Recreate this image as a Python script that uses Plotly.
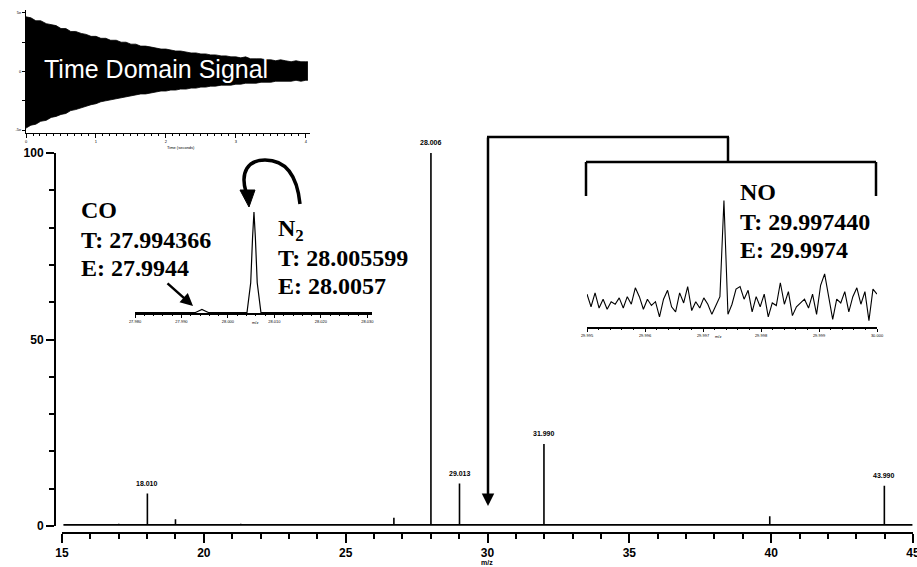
import numpy as np
import plotly.graph_objects as go

W, H = 917, 567

# ---------------- data ----------------
# main stick spectrum (m/z, relative abundance %)
peak_mz = [16.0, 17.0, 18.010, 19.0, 21.3, 26.7, 28.006, 29.013, 31.990, 39.95, 41.2, 43.990]
peak_int = [0.4, 0.6, 8.7, 1.8, 0.6, 2.2, 100.0, 11.4, 22.0, 2.6, 0.5, 10.8]
labeled_mz = [18.010, 28.006, 29.013, 31.990, 43.990]
labeled_int = [8.7, 100.0, 11.4, 22.0, 10.8]
labeled_txt = ["18.010", "28.006", "29.013", "31.990", "43.990"]
main_xticks = [15, 20, 25, 30, 35, 40, 45]
main_yticks = [0, 50, 100]

# N2 / CO zoom inset profile
n2_mz = [27.9800, 27.9930, 27.9937, 27.9944, 27.9951, 27.9958, 28.0041, 28.0049,
         28.0053, 28.0056, 28.0059, 28.0063, 28.0071, 28.0310]
n2_int = [0.5, 0.5, 2.0, 3.5, 2.0, 0.5, 0.5, 30.0, 75.0, 100.0, 75.0, 30.0, 0.5, 0.5]
n2_ticks = [27.98, 27.99, 28.00, 28.01, 28.02, 28.03]

# NO zoom inset profile (evenly sampled between 29.995 and 30.000)
no_int = [26, 16, 27, 15, 22, 14, 20, 18, 23, 15, 24, 18, 31, 24, 14, 22, 17, 20, 8,
          22, 29, 16, 12, 27, 19, 32, 13, 20, 15, 23, 18, 10, 17, 24, 100, 10, 18, 30,
          32, 22, 29, 12, 24, 16, 26, 8, 19, 17, 35, 18, 28, 9, 16, 19, 22, 15, 26, 10,
          33, 42, 25, 6, 22, 19, 28, 12, 24, 31, 18, 28, 5, 30, 26]
no_range = [29.995, 30.000]
no_ticks = [29.995, 29.996, 29.997, 29.998, 29.999, 30.000]

# time domain signal envelope
td_time = [0.00, 0.07, 0.14, 0.21, 0.29, 0.36, 0.43, 0.50, 0.57, 0.64, 0.71, 0.79, 0.86,
           0.93, 1.00, 1.07, 1.14, 1.21, 1.29, 1.36, 1.43, 1.50, 1.57, 1.64, 1.71, 1.79,
           1.86, 1.93, 2.00, 2.07, 2.14, 2.21, 2.29, 2.36, 2.43, 2.50, 2.57, 2.64, 2.71,
           2.79, 2.86, 2.93, 3.00, 3.07, 3.14, 3.21, 3.29, 3.36, 3.43, 3.50, 3.57, 3.64,
           3.71, 3.79, 3.86, 3.93, 4.00, 4.03]
td_upper = [56, 55, 52, 52, 49, 48, 47, 44, 44, 41, 41, 39, 38, 36, 36, 34, 34, 32, 32,
            30, 30, 28, 28, 26, 26, 25, 24, 23, 23, 22, 21, 21, 20, 19, 19, 18, 18, 17,
            17, 16, 16, 15, 15, 14, 15, 13, 13, 13, 12, 12, 11, 12, 11, 10, 11, 10, 10, 10]
td_lower = [-58, -55, -54, -51, -50, -47, -46, -44, -43, -40, -39, -37, -36, -34, -33,
            -31, -30, -29, -28, -27, -26, -25, -24, -23, -23, -22, -21, -20, -20, -19,
            -19, -18, -18, -17, -17, -16, -16, -15, -15, -14, -14, -14, -13, -13, -12,
            -12, -12, -11, -11, -11, -10, -10, -10, -10, -9, -10, -9, -9]
td_ticks = [0, 1, 2, 3, 4]

# ---------------- helpers ----------------
def px(x):
    return x / W

def py(y):
    return 1 - y / H

BASE = 0.3
sx, sy = [15.05], [BASE]
for m, h in zip(peak_mz, peak_int):
    sx += [m, m, m]
    sy += [BASE, h, BASE]
sx.append(44.98)
sy.append(BASE)

no_mz = np.linspace(no_range[0], no_range[1], len(no_int))

fig = go.Figure()

fig.add_trace(go.Scatter(x=sx, y=sy, mode="lines", line=dict(color="black", width=1.6),
                         xaxis="x", yaxis="y", hoverinfo="skip"))
fig.add_trace(go.Scatter(x=n2_mz, y=n2_int, mode="lines", line=dict(color="black", width=1.2),
                         xaxis="x2", yaxis="y2", hoverinfo="skip"))
fig.add_trace(go.Scatter(x=no_mz, y=no_int, mode="lines", line=dict(color="black", width=1.1),
                         xaxis="x3", yaxis="y3", hoverinfo="skip"))
fig.add_trace(go.Scatter(x=td_time, y=td_upper, mode="lines", line=dict(color="black", width=0.8),
                         xaxis="x4", yaxis="y4", hoverinfo="skip"))
fig.add_trace(go.Scatter(x=td_time, y=td_lower, mode="lines", line=dict(color="black", width=0.8),
                         fill="tonexty", fillcolor="black",
                         xaxis="x4", yaxis="y4", hoverinfo="skip"))

tickfont_main = dict(family="Liberation Sans", size=12, color="black", weight="bold")
tiny = dict(family="Liberation Sans", size=4, color="black")

fig.update_layout(
    width=W, height=H, autosize=False,
    margin=dict(l=0, r=0, t=0, b=0, pad=0, autoexpand=False),
    paper_bgcolor="white", plot_bgcolor="white",
    showlegend=False,
    xaxis=dict(domain=[px(62), px(913)], range=[15, 45], anchor="free", position=py(533),
               automargin=False, ticklabeloverflow="allow",
               showline=True, linecolor="black", linewidth=2, ticks="outside", ticklen=9,
               tickwidth=2, tickcolor="black", tickvals=main_xticks,
               ticktext=[str(v) for v in main_xticks], tickfont=tickfont_main,
               minor=dict(dtick=1, ticklen=5, tickwidth=1.5, ticks="outside", tickcolor="black"),
               showgrid=False, zeroline=False),
    yaxis=dict(domain=[py(526), py(153)], range=[0, 100], anchor="free", position=px(55),
               automargin=False, ticklabeloverflow="allow",
               showline=True, linecolor="black", linewidth=2, ticks="outside", ticklen=8,
               tickwidth=1.5, tickcolor="black", tickvals=main_yticks,
               ticktext=[str(v) for v in main_yticks], tickfont=tickfont_main,
               minor=dict(dtick=10, ticklen=5, tickwidth=1.5, ticks="outside", tickcolor="black"),
               showgrid=False, zeroline=False),
    xaxis2=dict(domain=[px(135), px(372)], range=[27.98, 28.031], anchor="y2",
                automargin=False,
                showline=True, linecolor="black", linewidth=1.5, ticks="outside", ticklen=3,
                tickcolor="black", tickvals=n2_ticks,
                ticktext=[f"{v:.3f}" for v in n2_ticks], tickfont=tiny,
                minor=dict(dtick=0.002, ticklen=1.5, ticks="outside", tickcolor="black"),
                showgrid=False, zeroline=False),
    yaxis2=dict(domain=[py(313), py(210)], range=[0, 102], anchor="x2", visible=False,
                automargin=False),
    xaxis3=dict(domain=[px(587), px(877)], range=no_range, anchor="y3",
                automargin=False,
                showline=True, linecolor="black", linewidth=1.5, ticks="outside", ticklen=3,
                tickcolor="black", tickvals=no_ticks,
                ticktext=[f"{v:.3f}" for v in no_ticks], tickfont=tiny,
                minor=dict(dtick=0.0002, ticklen=1.5, ticks="outside", tickcolor="black"),
                showgrid=False, zeroline=False),
    yaxis3=dict(domain=[py(327), py(198)], range=[0, 102], anchor="x3", visible=False,
                automargin=False),
    xaxis4=dict(domain=[px(26), px(310)], range=[0, 4.06], anchor="y4",
                automargin=False,
                showline=True, linecolor="black", linewidth=1, ticks="outside", ticklen=4,
                tickcolor="black", tickvals=td_ticks,
                ticktext=[str(v) for v in td_ticks], tickfont=tiny,
                minor=dict(dtick=0.1, ticklen=2, ticks="outside", tickcolor="black"),
                showgrid=False, zeroline=False),
    yaxis4=dict(domain=[py(133), py(10)], range=[-63, 63], anchor="x4",
                automargin=False,
                showline=True, linecolor="black", linewidth=1, ticks="outside", ticklen=3,
                tickcolor="black", tickvals=[-60, -30, 0, 30, 60],
                ticktext=["-5e", "", "0", "", "5e"], tickfont=tiny,
                showgrid=False, zeroline=False),
)

ann = []
for m, h, t in zip(labeled_mz, labeled_int, labeled_txt):
    ann.append(dict(x=m, y=h, xref="x", yref="y", text=t, showarrow=False, yshift=10,
                    font=dict(family="Liberation Sans", size=7, color="black", weight="bold")))

serif = dict(family="Liberation Serif", size=24, color="black", weight="bold")
texts = [
    ("CO", 79, 210), ("T: 27.994366", 79, 240), ("E: 27.9944", 79, 268),
    ("N<sub>2</sub>", 276, 230), ("T: 28.005599", 276, 258), ("E: 28.0057", 276, 286),
    ("NO", 738, 192), ("T: 29.997440", 738, 222), ("E: 29.9974", 738, 250),
]
for t, x, y in texts:
    ann.append(dict(x=px(x), y=py(y), xref="paper", yref="paper", text=t, showarrow=False,
                    xanchor="left", yanchor="middle", font=serif))

ann.append(dict(x=px(156), y=py(69), xref="paper", yref="paper", text="Time Domain Signal",
                showarrow=False, xanchor="center", yanchor="middle",
                font=dict(family="Liberation Sans", size=25, color="white")))
ann.append(dict(x=px(487), y=py(568), xref="paper", yref="paper", text="m/z", showarrow=False,
                yanchor="bottom",
                font=dict(family="Liberation Sans", size=7, color="black", weight="bold")))
ann.append(dict(x=px(250), y=py(322), xref="paper", yref="paper", text="m/z", showarrow=False,
                font=dict(family="Liberation Sans", size=4, color="black")))
ann.append(dict(x=px(723), y=py(336), xref="paper", yref="paper", text="m/z", showarrow=False,
                font=dict(family="Liberation Sans", size=4, color="black")))
ann.append(dict(x=px(165), y=py(143), xref="paper", yref="paper", text="Time (seconds)",
                showarrow=False, font=dict(family="Liberation Sans", size=4, color="black")))

ann.append(dict(x=px(193), y=py(306), xref="paper", yref="paper", ax=-27, ay=-24,
                axref="pixel", ayref="pixel", text="", showarrow=True, arrowhead=2,
                arrowsize=1, arrowwidth=2.5, arrowcolor="black"))
ann.append(dict(x=px(488), y=py(506), xref="paper", yref="paper", ax=0, ay=-370,
                text="", showarrow=True, arrowhead=2, arrowsize=1, arrowwidth=2.5,
                arrowcolor="black"))
fig.update_layout(annotations=ann)

def line(x0, y0, x1, y1, w=2.5):
    return dict(type="line", xref="paper", yref="paper", x0=px(x0), y0=py(y0),
                x1=px(x1), y1=py(y1), line=dict(color="black", width=w))

shapes = [
    line(586, 162, 876, 162), line(586, 162, 586, 196), line(876, 162, 876, 196),
    line(728, 137, 728, 162), line(487, 137, 729, 137),
]
path = "M {:.5f},{:.5f} C {:.5f},{:.5f} {:.5f},{:.5f} {:.5f},{:.5f} C {:.5f},{:.5f} {:.5f},{:.5f} {:.5f},{:.5f}".format(
    px(300), py(204), px(297), py(174), px(285), py(160), px(265), py(160),
    px(248), py(160), px(240), py(172), px(246), py(192))
shapes.append(dict(type="path", xref="paper", yref="paper", path=path,
                   line=dict(color="black", width=3.5)))
head = "M {:.5f},{:.5f} L {:.5f},{:.5f} L {:.5f},{:.5f} Z".format(
    px(249), py(207), px(240), py(190), px(255), py(190))
shapes.append(dict(type="path", xref="paper", yref="paper", path=head,
                   fillcolor="black", line=dict(color="black", width=1)))
fig.update_layout(shapes=shapes)

fig.write_html("out.html", config={"displayModeBar": False},
               post_script="document.body.style.margin='0px';document.body.style.overflow='hidden';")
